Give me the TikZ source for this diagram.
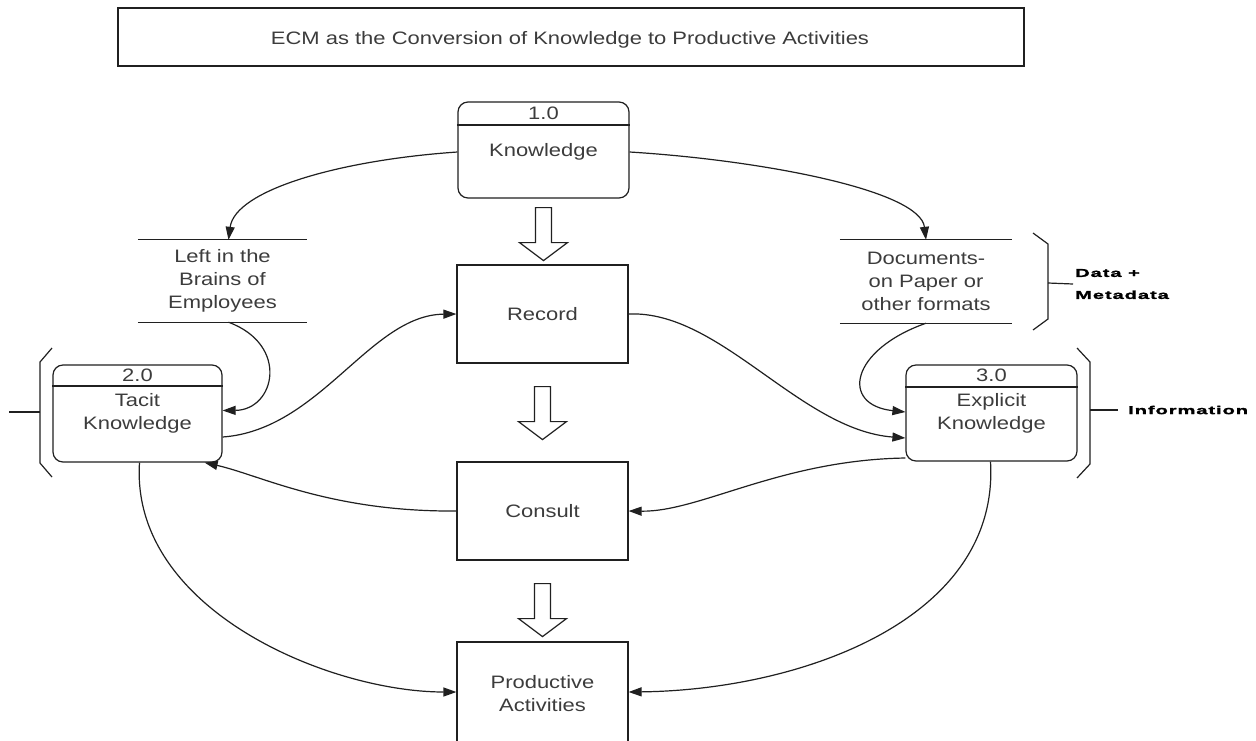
\documentclass[tikz,border=0pt]{standalone}
\usepackage{fontspec}
\setmainfont{Liberation Sans}[FakeStretch=1.22]
\newfontfamily\tagfont{Liberation Sans}[FakeStretch=1.75,LetterSpace=8,BoldFeatures={FakeBold=1.6}]
\usetikzlibrary{arrows.meta,calc}
\definecolor{ink}{HTML}{202020}
\definecolor{txt}{HTML}{3C3C3C}
\tikzset{
  every node/.style={text=txt,font=\fontsize{18}{23}\selectfont,align=center,inner sep=0pt},
  line/.style={draw=ink,line width=1.2pt},
  flow/.style={line,-{Triangle[length=13pt,width=9pt]}},
  procbox/.style={line,rounded corners=10pt,minimum width=171pt,minimum height=96pt},
  actbox/.style={line,minimum width=171pt,minimum height=98pt},
  store/.style={minimum width=170pt,minimum height=82pt},
  tag/.style={font=\tagfont\bfseries\fontsize{11.5}{22}\selectfont,text=black,align=left,anchor=west},
  flowarrow/.pic={\draw[line,fill=white,line join=miter]
      (-8,0) -- (-8,35) -- (-24,35) -- (0,53) -- (24,35) -- (8,35) -- (8,0) -- cycle;}
}
\begin{document}
\begin{tikzpicture}[x=1pt,y=-1pt]
\useasboundingbox[fill=white] (0,0) rectangle (1256,740);

% title
\node[line,minimum width=906pt,minimum height=58pt] (title) at (571,37) {};
\node (titletext) at (570,40) {ECM as the Conversion of Knowledge to Productive Activities};

% processes
\node[procbox] (know) at (543.5,150) {};
\node (knowtext) at (543.5,152) {Knowledge};
\node (knownum) at (543.5,113) {1.0};
\draw[line] (know.west |- 0,125) -- (know.east |- 0,125);

\node[procbox,minimum width=169pt,minimum height=97pt] (tacit) at (137.5,413.5) {Tacit\\Knowledge};
\node (tacitnum) at (137.5,375) {2.0};
\draw[line] (tacit.west |- 0,386) -- (tacit.east |- 0,386);

\node[procbox] (expl) at (991.5,413) {Explicit\\Knowledge};
\node (explnum) at (991.5,375) {3.0};
\draw[line] (expl.west |- 0,387) -- (expl.east |- 0,387);

% activities
\node[actbox] (record) at (542.5,314) {Record};
\node[actbox] (consult) at (542.5,511) {Consult};
\node[actbox,minimum height=104pt] (prod) at (542.5,694) {Productive\\Activities};

% data stores
\node[store,minimum width=169pt] (brains) at (222.5,281) {Left in the\\Brains of\\Employees};
\draw[line] (brains.north west) -- (brains.north east);
\draw[line] (brains.south west) -- (brains.south east);
\node[store,minimum width=172pt,minimum height=83pt] (docs) at (926,281.5) {Documents-\\on Paper or\\other formats};
\draw[line] (docs.north west) -- (docs.north east);
\draw[line] (docs.south west) -- (docs.south east);

% conversion steps
\pic at ([yshift=-9pt]know.south) {flowarrow};
\pic at ([yshift=-23pt]record.south) {flowarrow};
\pic at ([yshift=-23pt]consult.south) {flowarrow};

% brackets and their labels
\node[tag] (meta) at (1075,284) {Data +\\Metadata};
\node[tag] (info) at (1128,410) {Information};
\coordinate (leftend) at (9,412);
\draw[line] (1033,233) -- (1048,244) -- (1048,319) -- (1033,330);
\draw[line] (1048,283) -- ([xshift=-2pt]meta.west);
\draw[line] (1077,348) -- (1090,362) -- (1090,464) -- (1077,478);
\draw[line] (1090,410) -- ([xshift=-10pt]info.west);
\draw[line] (52,348) -- (40,362) -- (40,463) -- (52,477);
\draw[line] (40,412) -- (leftend);

% flows
\draw[flow] (know.west |- 0,152) .. controls (340,160) and (235,190) .. ([xshift=6pt]brains.north);
\draw[flow] (know.east |- 0,152) .. controls (760,160) and (920,190) .. (docs.north);
\draw[flow] ([xshift=6pt]brains.south) .. controls (290,345) and (275,410) .. ([yshift=3pt]tacit.east);
\draw[flow] ([yshift=-23.5pt]tacit.east) .. controls (320,430) and (370,315) .. (record.west);
\draw[flow] (record.east) .. controls (720,310) and (800,430) .. ([yshift=-25pt]expl.west);
\draw[flow] (docs.south) .. controls (850,350) and (840,405) .. ([yshift=1pt]expl.west);
\draw[flow] ([yshift=-45pt]expl.west) .. controls (780,460) and (700,512) .. (consult.east);
\draw[flow] (consult.west) .. controls (330,512) and (260,475) .. ([xshift=-18pt]tacit.south east);
\draw[flow] ([xshift=2pt]tacit.south) .. controls (130,610) and (330,692) .. (prod.west |- 0,692);
\draw[flow] ([xshift=-1pt]expl.south) .. controls (1000,620) and (800,690) .. (prod.east |- 0,692);
\end{tikzpicture}
\end{document}
